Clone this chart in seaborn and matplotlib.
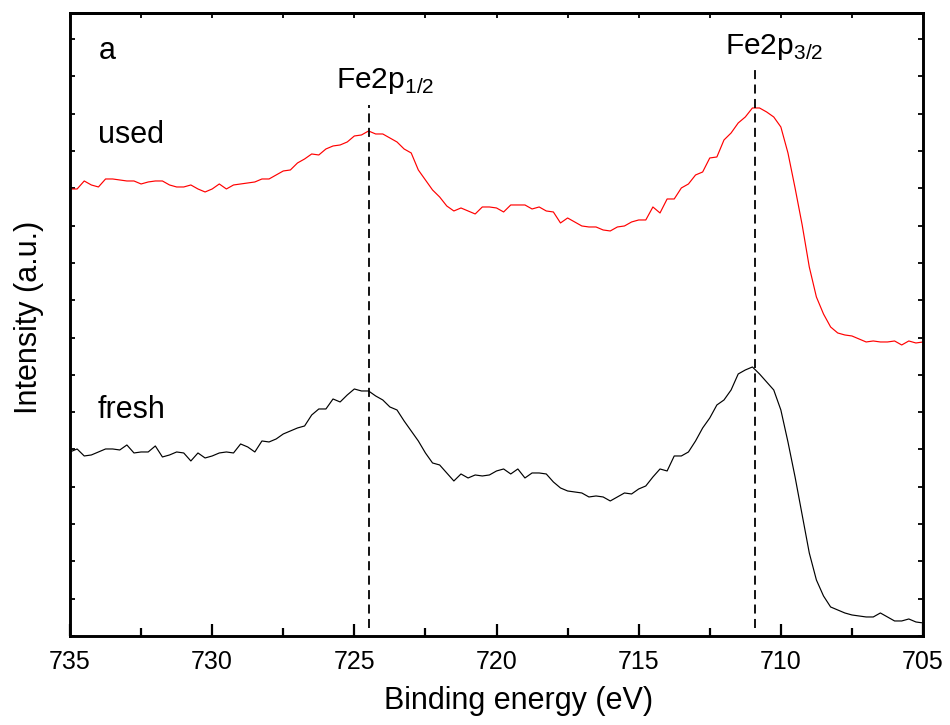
import numpy as np
import pandas as pd
import matplotlib
matplotlib.use("Agg")
import matplotlib.pyplot as plt
from matplotlib.ticker import MultipleLocator, NullFormatter
import seaborn as sns

# binding energy grid of the scan, 735 -> 705 eV in 0.25 eV steps
ENERGY = np.linspace(735, 705, 121)

# intensity (a.u.)
USED = [
    447, 447, 455, 451, 449, 457, 457, 456, 455, 455, 452, 454, 455, 455, 451, 449,
    449, 451, 447, 444, 447, 452, 447, 451, 452, 453, 454, 457, 457, 461, 465, 466,
    473, 477, 482, 481, 487, 490, 491, 494, 500, 501, 505, 502, 502, 498, 494, 487,
    483, 466, 456, 446, 439, 430, 425, 428, 425, 422, 429, 429, 428, 424, 431, 431,
    431, 427, 429, 425, 424, 413, 418, 414, 410, 409, 409, 406, 405, 409, 410, 414,
    416, 416, 429, 423, 437, 437, 448, 452, 461, 464, 478, 479, 496, 503, 513, 519,
    528, 528, 524, 519, 509, 483, 448, 411, 369, 339, 322, 309, 303, 301, 300, 297,
    294, 295, 294, 294, 295, 291, 295, 293, 294,
]
FRESH = [
    184, 187, 180, 181, 184, 187, 187, 186, 191, 183, 184, 184, 190, 179, 181, 184,
    183, 175, 183, 178, 180, 183, 184, 183, 192, 189, 184, 195, 194, 197, 202, 205,
    208, 210, 221, 227, 227, 237, 234, 241, 247, 245, 245, 240, 236, 229, 226, 215,
    205, 195, 183, 173, 171, 163, 155, 162, 158, 161, 160, 161, 165, 167, 162, 167,
    158, 163, 163, 162, 154, 148, 145, 144, 143, 139, 140, 139, 135, 139, 143, 142,
    147, 150, 159, 167, 165, 180, 180, 184, 195, 208, 218, 231, 236, 246, 262, 266,
    269, 262, 254, 246, 226, 194, 159, 121, 83, 56, 40, 29, 26, 23, 21, 20,
    19, 19, 23, 19, 15, 15, 17, 14, 13,
]

PEAKS = [724.5, 710.9]
PEAK_TOPS = [531, 567]
PEAK_LABELS = ["Fe2p$_{\\mathregular{1/2}}$", "Fe2p$_{\\mathregular{3/2}}$"]

df = pd.concat([
    pd.DataFrame({"Binding energy (eV)": ENERGY, "Intensity": USED, "sample": "used"}),
    pd.DataFrame({"Binding energy (eV)": ENERGY, "Intensity": FRESH, "sample": "fresh"}),
])

sns.set_style("ticks")
plt.rcParams["font.family"] = ["Liberation Sans", "DejaVu Sans"]
plt.rcParams["mathtext.fontset"] = "custom"
plt.rcParams["mathtext.rm"] = "Liberation Sans"
for key in ["text.color", "axes.labelcolor", "xtick.color", "ytick.color", "axes.edgecolor"]:
    plt.rcParams[key] = "black"

fig = plt.figure(figsize=(9.5, 7.25), dpi=100)
ax = fig.add_axes([0.0737, 0.1228, 0.8979, 0.8593])

sns.lineplot(
    data=df, x="Binding energy (eV)", y="Intensity", hue="sample",
    palette={"used": "#ff0000", "fresh": "black"},
    estimator=None, sort=False, linewidth=0.85, legend=False, ax=ax,
)

ax.vlines(PEAKS, 8, PEAK_TOPS, color="black", linewidth=1.3, linestyle=(0, (5, 3)))

ax.set_xlim(735, 705)
ax.set_ylim(0, 623)
ax.xaxis.set_major_locator(MultipleLocator(5))
ax.xaxis.set_minor_locator(MultipleLocator(2.5))
ax.yaxis.set_major_locator(MultipleLocator(37.3))
ax.yaxis.set_major_formatter(NullFormatter())

ax.tick_params(axis="x", which="major", direction="in", length=9, width=1.6,
               labelsize=18, pad=10)
ax.tick_params(axis="x", which="minor", direction="in", length=5.5, width=1.6)
ax.tick_params(axis="y", which="major", direction="in", length=3.5, width=1.3,
               right=True)

top = ax.secondary_xaxis("top")
top.xaxis.set_major_locator(MultipleLocator(5))
top.xaxis.set_minor_locator(MultipleLocator(2.5))
top.xaxis.set_major_formatter(NullFormatter())
top.tick_params(which="both", direction="in", length=3.5, width=1.3)
top.spines["top"].set_linewidth(2.1)

for s in ax.spines.values():
    s.set_linewidth(2.1)
    s.set_visible(True)

ax.set_xlabel("Binding energy (eV)", fontsize=22)
ax.set_ylabel("Intensity (a.u.)", fontsize=22)
ax.xaxis.set_label_coords(0.526, -0.081)
ax.yaxis.set_label_coords(-0.031, 0.512)

ax.text(0.034, 0.926, "a", transform=ax.transAxes, fontsize=22, va="baseline")
ax.text(0.033, 0.791, "used", transform=ax.transAxes, fontsize=22, va="baseline")
ax.text(0.032, 0.350, "fresh", transform=ax.transAxes, fontsize=22, va="baseline")
ax.text(0.312, 0.880, PEAK_LABELS[0], transform=ax.transAxes, fontsize=21.5, va="baseline")
ax.text(0.768, 0.934, PEAK_LABELS[1], transform=ax.transAxes, fontsize=21.5, va="baseline")

fig.savefig("out.png", dpi=100)
